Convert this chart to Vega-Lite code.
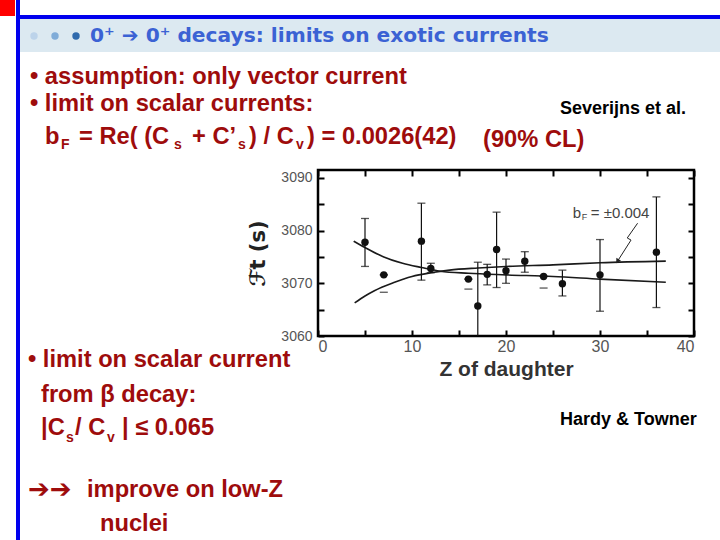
{
  "$schema": "https://vega.github.io/schema/vega-lite/v6.json",
  "width": 376,
  "height": 166,
  "autosize": "none",
  "padding": {"left": 318, "top": 170, "right": 26, "bottom": 204},
  "background": "white",
  "config": {
    "view": {"stroke": "black", "strokeWidth": 2.5},
    "text": {"font": "Liberation Sans", "baseline": "middle", "align": "left"}
  },
  "datasets": {
    "points": [
      {"z": 5, "ft": 3077.8, "lo": 3073.2, "hi": 3082.3},
      {"z": 7, "ft": 3071.6, "lo": 3071.6, "hi": 3071.6},
      {"z": 11, "ft": 3078.0, "lo": 3070.6, "hi": 3085.2},
      {"z": 12, "ft": 3072.8, "lo": 3072.0, "hi": 3073.8},
      {"z": 16, "ft": 3070.8, "lo": 3070.8, "hi": 3070.8},
      {"z": 17, "ft": 3065.7, "lo": 3057.0, "hi": 3074.0},
      {"z": 18, "ft": 3071.7, "lo": 3069.7, "hi": 3073.6},
      {"z": 19, "ft": 3076.4, "lo": 3069.2, "hi": 3083.5},
      {"z": 20, "ft": 3072.4, "lo": 3070.0, "hi": 3074.6},
      {"z": 22, "ft": 3074.2, "lo": 3072.1, "hi": 3076.0},
      {"z": 24, "ft": 3071.3, "lo": 3071.3, "hi": 3071.3},
      {"z": 26, "ft": 3069.9, "lo": 3067.6, "hi": 3072.5},
      {"z": 30, "ft": 3071.6, "lo": 3064.7, "hi": 3078.3},
      {"z": 36, "ft": 3075.9, "lo": 3065.4, "hi": 3086.4}
    ],
    "dashes": [
      {"z": 7, "ft": 3068.3},
      {"z": 16, "ft": 3068.9},
      {"z": 24, "ft": 3069.1}
    ],
    "curves": [
      {"curve": "A", "z": 3.8, "ft": 3078.0},
      {"curve": "A", "z": 5, "ft": 3076.8},
      {"curve": "A", "z": 7, "ft": 3075.0},
      {"curve": "A", "z": 9, "ft": 3073.8},
      {"curve": "A", "z": 11, "ft": 3073.0},
      {"curve": "A", "z": 13, "ft": 3072.3},
      {"curve": "A", "z": 16, "ft": 3071.9},
      {"curve": "A", "z": 20, "ft": 3071.6},
      {"curve": "A", "z": 25, "ft": 3071.3},
      {"curve": "A", "z": 30, "ft": 3070.8},
      {"curve": "A", "z": 37, "ft": 3070.2},
      {"curve": "B", "z": 3.9, "ft": 3066.3},
      {"curve": "B", "z": 5, "ft": 3067.6},
      {"curve": "B", "z": 6, "ft": 3068.6},
      {"curve": "B", "z": 8, "ft": 3070.1},
      {"curve": "B", "z": 10, "ft": 3071.3},
      {"curve": "B", "z": 12, "ft": 3072.0},
      {"curve": "B", "z": 14, "ft": 3072.5},
      {"curve": "B", "z": 17, "ft": 3072.9},
      {"curve": "B", "z": 20, "ft": 3073.2},
      {"curve": "B", "z": 25, "ft": 3073.5},
      {"curve": "B", "z": 30, "ft": 3073.9},
      {"curve": "B", "z": 37, "ft": 3074.2}
    ],
    "arrow": [
      {"step": 1, "z": 34.0, "ft": 3081.4},
      {"step": 2, "z": 32.9, "ft": 3078.6},
      {"step": 3, "z": 33.3, "ft": 3078.2},
      {"step": 4, "z": 31.9, "ft": 3074.3}
    ]
  },
  "resolve": {"axis": {"x": "independent", "y": "independent"}},
  "layer": [
    {
      "data": {"values": [{}]},
      "mark": {"type": "rect", "color": "#ff0000"},
      "encoding": {"x": {"value": -318}, "x2": {"value": -303}, "y": {"value": -170}, "y2": {"value": -154}}
    },
    {
      "data": {"values": [{}]},
      "mark": {"type": "rect", "color": "#dce9f1"},
      "encoding": {"x": {"value": -298}, "x2": {"value": 402}, "y": {"value": -151}, "y2": {"value": -118}}
    },
    {
      "data": {"values": [{}]},
      "mark": {"type": "rect", "color": "#0000ee"},
      "encoding": {"x": {"value": -302}, "x2": {"value": -298}, "y": {"value": -170}, "y2": {"value": 370}}
    },
    {
      "data": {"values": [{}]},
      "mark": {"type": "rect", "color": "#0000ee"},
      "encoding": {"x": {"value": -302}, "x2": {"value": 402}, "y": {"value": -155}, "y2": {"value": -151}}
    },
    {
      "data": {"values": [{}]},
      "mark": {"type": "point", "filled": true, "size": 55, "opacity": 1},
      "encoding": {"x": {"value": -284}, "y": {"value": -134}, "color": {"value": "#bcd3ea"}}
    },
    {
      "data": {"values": [{}]},
      "mark": {"type": "point", "filled": true, "size": 55, "opacity": 1},
      "encoding": {"x": {"value": -263}, "y": {"value": -134}, "color": {"value": "#80acd8"}}
    },
    {
      "data": {"values": [{}]},
      "mark": {"type": "point", "filled": true, "size": 55, "opacity": 1},
      "encoding": {"x": {"value": -242}, "y": {"value": -134}, "color": {"value": "#2f6aad"}}
    },
    {
      "data": {"values": [{}]},
      "mark": {"type": "text", "font": "DejaVu Sans", "fontWeight": "bold", "fontSize": 20.2, "color": "#3b62d4"},
      "encoding": {"x": {"value": -228}, "y": {"value": -134}, "text": {"value": "0⁺ ➔ 0⁺ decays: limits on exotic currents"}}
    },
    {
      "data": {"values": [{}]},
      "mark": {"type": "text", "fontWeight": "bold", "fontSize": 23.7, "color": "#9e0c0c"},
      "encoding": {"x": {"value": -288}, "y": {"value": -93}, "text": {"value": "• assumption: only vector current"}}
    },
    {
      "data": {"values": [{}]},
      "mark": {"type": "text", "fontWeight": "bold", "fontSize": 23.7, "color": "#9e0c0c"},
      "encoding": {"x": {"value": -288}, "y": {"value": -66}, "text": {"value": "• limit on scalar currents:"}}
    },
    {
      "data": {"values": [{}]},
      "mark": {"type": "text", "fontWeight": "bold", "fontSize": 23.7, "color": "#9e0c0c"},
      "encoding": {"x": {"value": -273}, "y": {"value": -33}, "text": {"value": "b"}}
    },
    {
      "data": {"values": [{}]},
      "mark": {"type": "text", "fontWeight": "bold", "fontSize": 14, "color": "#9e0c0c"},
      "encoding": {"x": {"value": -257}, "y": {"value": -25}, "text": {"value": "F"}}
    },
    {
      "data": {"values": [{}]},
      "mark": {"type": "text", "fontWeight": "bold", "fontSize": 23.7, "color": "#9e0c0c"},
      "encoding": {"x": {"value": -239}, "y": {"value": -33}, "text": {"value": "= Re( (C"}}
    },
    {
      "data": {"values": [{}]},
      "mark": {"type": "text", "fontWeight": "bold", "fontSize": 14, "color": "#9e0c0c"},
      "encoding": {"x": {"value": -144}, "y": {"value": -25}, "text": {"value": "s"}}
    },
    {
      "data": {"values": [{}]},
      "mark": {"type": "text", "fontWeight": "bold", "fontSize": 23.7, "color": "#9e0c0c"},
      "encoding": {"x": {"value": -126}, "y": {"value": -33}, "text": {"value": "+ C’"}}
    },
    {
      "data": {"values": [{}]},
      "mark": {"type": "text", "fontWeight": "bold", "fontSize": 14, "color": "#9e0c0c"},
      "encoding": {"x": {"value": -80}, "y": {"value": -25}, "text": {"value": "s"}}
    },
    {
      "data": {"values": [{}]},
      "mark": {"type": "text", "fontWeight": "bold", "fontSize": 23.7, "color": "#9e0c0c"},
      "encoding": {"x": {"value": -69}, "y": {"value": -33}, "text": {"value": ") / C"}}
    },
    {
      "data": {"values": [{}]},
      "mark": {"type": "text", "fontWeight": "bold", "fontSize": 14, "color": "#9e0c0c"},
      "encoding": {"x": {"value": -22}, "y": {"value": -25}, "text": {"value": "v"}}
    },
    {
      "data": {"values": [{}]},
      "mark": {"type": "text", "fontWeight": "bold", "fontSize": 23.7, "color": "#9e0c0c"},
      "encoding": {"x": {"value": -11}, "y": {"value": -33}, "text": {"value": ") = 0.0026(42)"}}
    },
    {
      "data": {"values": [{}]},
      "mark": {"type": "text", "fontWeight": "bold", "fontSize": 23.7, "color": "#9e0c0c"},
      "encoding": {"x": {"value": 165}, "y": {"value": -30}, "text": {"value": "(90%  CL)"}}
    },
    {
      "data": {"values": [{}]},
      "mark": {"type": "text", "fontWeight": "bold", "fontSize": 18, "color": "black"},
      "encoding": {"x": {"value": 242}, "y": {"value": -61}, "text": {"value": "Severijns et al."}}
    },
    {
      "data": {"values": [{}]},
      "mark": {"type": "text", "fontWeight": "bold", "fontSize": 18, "color": "black"},
      "encoding": {"x": {"value": 242}, "y": {"value": 250}, "text": {"value": "Hardy & Towner"}}
    },
    {
      "data": {"values": [{}]},
      "mark": {"type": "text", "fontWeight": "bold", "fontSize": 23.7, "color": "#9e0c0c"},
      "encoding": {"x": {"value": -290}, "y": {"value": 190}, "text": {"value": "• limit on scalar current"}}
    },
    {
      "data": {"values": [{}]},
      "mark": {"type": "text", "fontWeight": "bold", "fontSize": 23.7, "color": "#9e0c0c"},
      "encoding": {"x": {"value": -277}, "y": {"value": 225}, "text": {"value": "from β decay:"}}
    },
    {
      "data": {"values": [{}]},
      "mark": {"type": "text", "fontWeight": "bold", "fontSize": 23.7, "color": "#9e0c0c"},
      "encoding": {"x": {"value": -277}, "y": {"value": 258}, "text": {"value": "|C"}}
    },
    {
      "data": {"values": [{}]},
      "mark": {"type": "text", "fontWeight": "bold", "fontSize": 14, "color": "#9e0c0c"},
      "encoding": {"x": {"value": -252}, "y": {"value": 268}, "text": {"value": "s"}}
    },
    {
      "data": {"values": [{}]},
      "mark": {"type": "text", "fontWeight": "bold", "fontSize": 23.7, "color": "#9e0c0c"},
      "encoding": {"x": {"value": -243}, "y": {"value": 258}, "text": {"value": "/ C"}}
    },
    {
      "data": {"values": [{}]},
      "mark": {"type": "text", "fontWeight": "bold", "fontSize": 14, "color": "#9e0c0c"},
      "encoding": {"x": {"value": -211}, "y": {"value": 268}, "text": {"value": "v"}}
    },
    {
      "data": {"values": [{}]},
      "mark": {"type": "text", "fontWeight": "bold", "fontSize": 23.7, "color": "#9e0c0c"},
      "encoding": {"x": {"value": -196}, "y": {"value": 258}, "text": {"value": "| ≤  0.065"}}
    },
    {
      "data": {"values": [{}]},
      "mark": {"type": "text", "font": "DejaVu Sans", "fontWeight": "bold", "fontSize": 26, "color": "#9e0c0c"},
      "encoding": {"x": {"value": -290}, "y": {"value": 320}, "text": {"value": "➔➔"}}
    },
    {
      "data": {"values": [{}]},
      "mark": {"type": "text", "fontWeight": "bold", "fontSize": 23.7, "color": "#9e0c0c"},
      "encoding": {"x": {"value": -231}, "y": {"value": 320}, "text": {"value": "improve on low-Z"}}
    },
    {
      "data": {"values": [{}]},
      "mark": {"type": "text", "fontWeight": "bold", "fontSize": 23.7, "color": "#9e0c0c"},
      "encoding": {"x": {"value": -218}, "y": {"value": 354}, "text": {"value": "nuclei"}}
    },
    {
      "data": {"name": "curves"},
      "mark": {"type": "line", "interpolate": "monotone", "color": "#1a1a1a", "strokeWidth": 1.6},
      "encoding": {
        "x": {
          "field": "z", "type": "quantitative",
          "scale": {"domain": [0, 40], "nice": false, "zero": false},
          "axis": {
            "orient": "bottom", "values": [0, 5, 10, 15, 20, 25, 30, 35, 40],
            "labelExpr": "datum.value % 10 === 0 ? datum.label : ''",
            "domain": false, "grid": false, "tickSize": -6, "tickWidth": 2, "tickColor": "black",
            "labelFont": "Liberation Sans", "labelFontSize": 16, "labelColor": "#555555", "labelPadding": 8,
            "title": "Z of daughter", "titleFont": "Liberation Sans", "titleFontSize": 21, "titleFontWeight": "bold",
            "titleColor": "#333333", "titlePadding": 4
          }
        },
        "y": {
          "field": "ft", "type": "quantitative",
          "scale": {"domain": [3060, 3091.5], "nice": false, "zero": false},
          "axis": {
            "orient": "left", "values": [3060, 3065, 3070, 3075, 3080, 3085, 3090], "format": "d",
            "labelExpr": "datum.value % 10 === 0 ? datum.label : ''",
            "domain": false, "grid": false, "tickSize": -6, "tickWidth": 2, "tickColor": "black",
            "labelFont": "Liberation Sans", "labelFontSize": 14, "labelColor": "#555555", "labelPadding": 12,
            "title": "ℱt (s)", "titleFont": "DejaVu Sans", "titleFontSize": 21, "titleFontWeight": "bold",
            "titleColor": "#222222", "titlePadding": 12
          }
        },
        "detail": {"field": "curve", "type": "nominal"}
      }
    },
    {
      "data": {"name": "points"},
      "mark": {"type": "point", "opacity": 0},
      "encoding": {
        "x": {"field": "z", "type": "quantitative",
          "axis": {"orient": "top", "values": [0, 5, 10, 15, 20, 25, 30, 35, 40], "labels": false, "domain": false, "grid": false, "tickSize": -6, "tickWidth": 2, "tickColor": "black", "title": null}},
        "y": {"field": "ft", "type": "quantitative",
          "axis": {"orient": "right", "values": [3060, 3065, 3070, 3075, 3080, 3085, 3090], "labels": false, "domain": false, "grid": false, "tickSize": -6, "tickWidth": 2, "tickColor": "black", "title": null}}
      }
    },
    {
      "data": {"name": "points"},
      "mark": {"type": "rule", "color": "#111111", "strokeWidth": 1.2, "clip": true},
      "encoding": {
        "x": {"field": "z", "type": "quantitative", "axis": null},
        "y": {"field": "lo", "type": "quantitative", "axis": null},
        "y2": {"field": "hi"}
      }
    },
    {
      "data": {"name": "points"},
      "mark": {"type": "tick", "orient": "horizontal", "color": "#111111", "size": 8, "thickness": 1.3},
      "encoding": {
        "x": {"field": "z", "type": "quantitative", "axis": null},
        "y": {"field": "hi", "type": "quantitative", "axis": null}
      }
    },
    {
      "data": {"name": "points"},
      "mark": {"type": "tick", "orient": "horizontal", "color": "#111111", "size": 8, "thickness": 1.3, "clip": true},
      "encoding": {
        "x": {"field": "z", "type": "quantitative", "axis": null},
        "y": {"field": "lo", "type": "quantitative", "axis": null}
      }
    },
    {
      "data": {"name": "dashes"},
      "mark": {"type": "tick", "orient": "horizontal", "color": "#111111", "size": 8, "thickness": 1.3},
      "encoding": {
        "x": {"field": "z", "type": "quantitative", "axis": null},
        "y": {"field": "ft", "type": "quantitative", "axis": null}
      }
    },
    {
      "data": {"name": "points"},
      "mark": {"type": "circle", "color": "#111111", "size": 55, "opacity": 1},
      "encoding": {
        "x": {"field": "z", "type": "quantitative", "axis": null},
        "y": {"field": "ft", "type": "quantitative", "axis": null}
      }
    },
    {
      "data": {"name": "arrow"},
      "mark": {"type": "line", "color": "#222222", "strokeWidth": 1},
      "encoding": {
        "x": {"field": "z", "type": "quantitative", "axis": null},
        "y": {"field": "ft", "type": "quantitative", "axis": null},
        "order": {"field": "step"}
      }
    },
    {
      "data": {"values": [{}]},
      "mark": {"type": "point", "shape": "triangle", "filled": true, "size": 30, "angle": 212, "color": "#222222", "opacity": 1},
      "encoding": {
        "x": {"datum": 31.9, "type": "quantitative", "axis": null},
        "y": {"datum": 3074.3, "type": "quantitative", "axis": null}
      }
    },
    {
      "data": {"values": [{}]},
      "mark": {"type": "text", "fontSize": 15, "color": "#444444"},
      "encoding": {
        "x": {"datum": 27.1, "type": "quantitative", "axis": null},
        "y": {"datum": 3083.4, "type": "quantitative", "axis": null},
        "text": {"value": "b"}
      }
    },
    {
      "data": {"values": [{}]},
      "mark": {"type": "text", "fontSize": 9, "color": "#444444", "dx": 9, "dy": 4},
      "encoding": {
        "x": {"datum": 27.1, "type": "quantitative", "axis": null},
        "y": {"datum": 3083.4, "type": "quantitative", "axis": null},
        "text": {"value": "F"}
      }
    },
    {
      "data": {"values": [{}]},
      "mark": {"type": "text", "fontSize": 15, "color": "#444444", "dx": 18},
      "encoding": {
        "x": {"datum": 27.1, "type": "quantitative", "axis": null},
        "y": {"datum": 3083.4, "type": "quantitative", "axis": null},
        "text": {"value": "= ±0.004"}
      }
    }
  ]
}
